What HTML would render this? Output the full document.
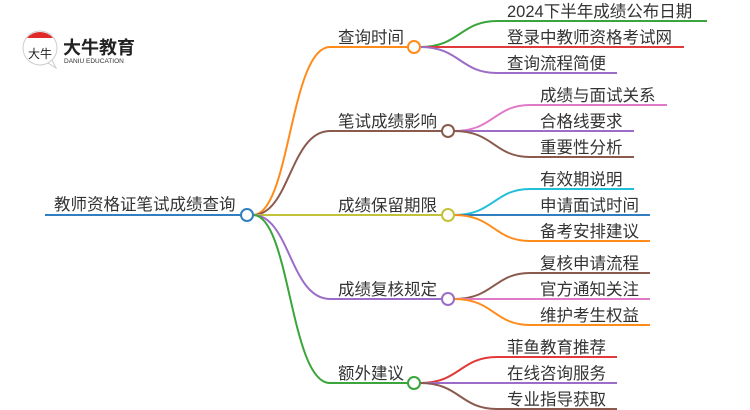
<!DOCTYPE html>
<html><head><meta charset="utf-8"><style>
html,body{margin:0;padding:0;background:#fff;width:750px;height:410px;overflow:hidden}
text{font-family:"Liberation Sans","Noto Sans CJK SC",sans-serif;fill:#333}
</style></head><body>
<svg width="750" height="410" viewBox="0 0 750 410" xmlns="http://www.w3.org/2000/svg">
<g fill="none" stroke-width="2">
<line x1="45" y1="215" x2="241" y2="215" stroke="#2f7fc1"/>
<path d="M253,215 C290,215 290,47 330,47 L408,47" stroke="#ff8c1a"/>
<path d="M253,215 C290,215 290,131 330,131 L442,131" stroke="#8b5a4e"/>
<path d="M253,215 L442,215" stroke="#c2c23a"/>
<path d="M253,215 C290,215 290,299 330,299 L442,299" stroke="#9b6dc8"/>
<path d="M253,215 C290,215 290,383 330,383 L408,383" stroke="#3aa53a"/>
<path d="M420,47 C460,47 460,21 497,21 L707,21" stroke="#3aa53a"/>
<path d="M420,47 L684,47" stroke="#e03a3a"/>
<path d="M420,47 C460,47 460,73 497,73 L617,73" stroke="#9b6dc8"/>
<path d="M454,131 C494,131 494,105 530,105 L667,105" stroke="#e07ac8"/>
<path d="M454,131 L634,131" stroke="#9b6dc8"/>
<path d="M454,131 C494,131 494,157 530,157 L634,157" stroke="#8b5a4e"/>
<path d="M454,215 C494,215 494,189 530,189 L634,189" stroke="#22c0d8"/>
<path d="M454,215 L650,215" stroke="#2f7fc1"/>
<path d="M454,215 C494,215 494,241 530,241 L650,241" stroke="#ff8c1a"/>
<path d="M454,299 C494,299 494,273 530,273 L650,273" stroke="#8b5a4e"/>
<path d="M454,299 L650,299" stroke="#e07ac8"/>
<path d="M454,299 C494,299 494,325 530,325 L650,325" stroke="#ff8c1a"/>
<path d="M420,383 C460,383 460,357 497,357 L617,357" stroke="#e03a3a"/>
<path d="M420,383 L617,383" stroke="#9b6dc8"/>
<path d="M420,383 C460,383 460,409 497,409 L617,409" stroke="#8b5a4e"/>
</g>
<g fill="#fff" stroke-width="2">
<circle cx="247" cy="215" r="6" stroke="#2f7fc1"/>
<circle cx="414" cy="47" r="6" stroke="#ff8c1a"/>
<circle cx="448" cy="131" r="6" stroke="#8b5a4e"/>
<circle cx="448" cy="215" r="6" stroke="#c2c23a"/>
<circle cx="448" cy="299" r="6" stroke="#9b6dc8"/>
<circle cx="414" cy="383" r="6" stroke="#3aa53a"/>
</g>
<g font-size="16.5">
<text x="54" y="210">教师资格证笔试成绩查询</text>
<text x="338" y="43">查询时间</text>
<text x="338" y="127">笔试成绩影响</text>
<text x="338" y="211">成绩保留期限</text>
<text x="338" y="295">成绩复核规定</text>
<text x="338" y="379">额外建议</text>
<text x="507" y="17">2024下半年成绩公布日期</text>
<text x="507" y="43">登录中教师资格考试网</text>
<text x="507" y="69">查询流程简便</text>
<text x="540" y="101">成绩与面试关系</text>
<text x="540" y="127">合格线要求</text>
<text x="540" y="153">重要性分析</text>
<text x="540" y="185">有效期说明</text>
<text x="540" y="211">申请面试时间</text>
<text x="540" y="237">备考安排建议</text>
<text x="540" y="269">复核申请流程</text>
<text x="540" y="295">官方通知关注</text>
<text x="540" y="321">维护考生权益</text>
<text x="507" y="353">菲鱼教育推荐</text>
<text x="507" y="379">在线咨询服务</text>
<text x="507" y="405">专业指导获取</text>
</g>
<circle cx="40" cy="48" r="17" fill="#fff" stroke="#ccc" stroke-width="1"/>
<path d="M27,38 A17,17 0 0 1 53,38 Z" fill="#e02a2a"/>
<path d="M48,63 L56,68 L52,60 Z" fill="#fff" stroke="#ccc" stroke-width="1"/>
<text x="28" y="58" font-size="12" style="fill:#222">大牛</text>
<text x="63" y="54" font-size="18" font-weight="bold" style="fill:#222">大牛教育</text>
<text x="64" y="63" font-size="6.5" style="fill:#333">DANIU EDUCATION</text>
</svg>
</body></html>
